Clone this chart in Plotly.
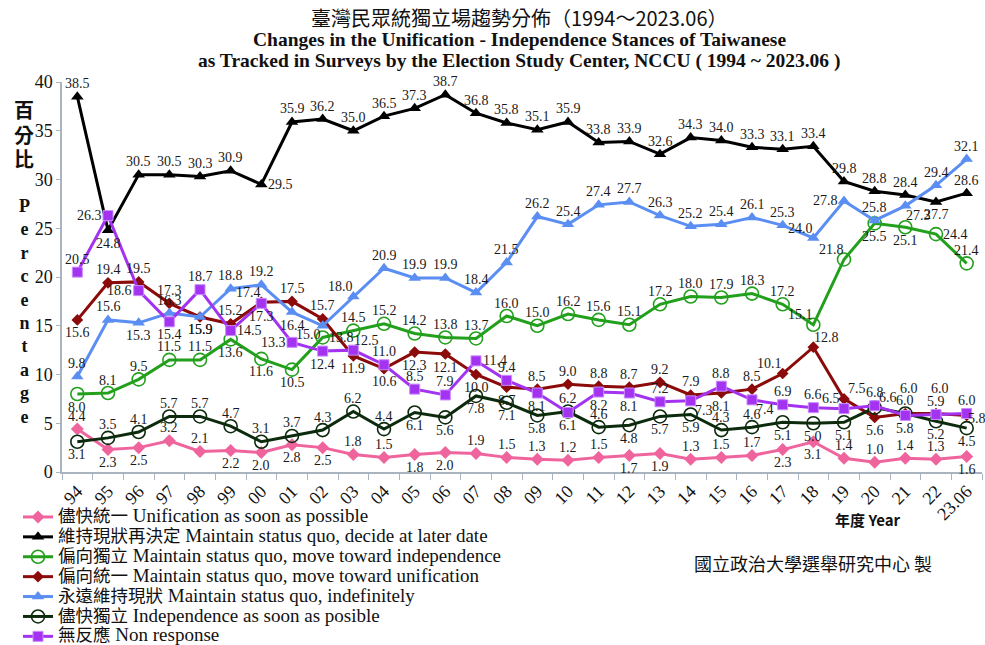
import plotly.graph_objects as go

# ---------------- data ----------------
years = ["94", "95", "96", "97", "98", "99", "00", "01", "02", "03", "04", "05", "06", "07", "08",
         "09", "10", "11", "12", "13", "14", "15", "16", "17", "18", "19", "20", "21", "22", "23.06"]

unif_asap = [4.4, 2.3, 2.5, 3.2, 2.1, 2.2, 2.0, 2.8, 2.5, 1.8, 1.5, 1.8, 2.0, 1.9, 1.5,
             1.3, 1.2, 1.5, 1.7, 1.9, 1.3, 1.5, 1.7, 2.3, 3.1, 1.4, 1.0, 1.4, 1.3, 1.6]
decide_later = [38.5, 24.8, 30.5, 30.5, 30.3, 30.9, 29.5, 35.9, 36.2, 35.0, 36.5, 37.3, 38.7, 36.8, 35.8,
                35.1, 35.9, 33.8, 33.9, 32.6, 34.3, 34.0, 33.3, 33.1, 33.4, 29.8, 28.8, 28.4, 27.7, 28.6]
toward_indep = [8.0, 8.1, 9.5, 11.5, 11.5, 13.6, 11.6, 10.5, 13.8, 14.5, 15.2, 14.2, 13.8, 13.7, 16.0,
                15.0, 16.2, 15.6, 15.1, 17.2, 18.0, 17.9, 18.3, 17.2, 15.1, 21.8, 25.5, 25.1, 24.4, 21.4]
toward_unif = [15.6, 19.4, 19.5, 17.3, 15.9, 15.2, 17.4, 17.5, 15.7, 11.9, 10.6, 12.3, 12.1, 10.0, 8.7,
               8.5, 9.0, 8.8, 8.7, 9.2, 7.9, 8.1, 8.5, 10.1, 12.8, 7.5, 5.6, 6.0, 6.0, 5.8]
indefinitely = [9.8, 15.6, 15.3, 16.3, 15.9, 18.8, 19.2, 16.4, 15.0, 18.0, 20.9, 19.9, 19.9, 18.4, 21.5,
                26.2, 25.4, 27.4, 27.7, 26.3, 25.2, 25.4, 26.1, 25.3, 24.0, 27.8, 25.8, 27.3, 29.4, 32.1]
indep_asap = [3.1, 3.5, 4.1, 5.7, 5.7, 4.7, 3.1, 3.7, 4.3, 6.2, 4.4, 6.1, 5.6, 7.8, 7.1,
              5.8, 6.2, 4.6, 4.8, 5.7, 5.9, 4.3, 4.6, 5.1, 5.0, 5.1, 6.6, 6.0, 5.2, 4.5]
non_response = [20.5, 26.3, 18.6, 15.4, 18.7, 14.5, 17.3, 13.3, 12.4, 12.5, 11.0, 8.5, 7.9, 11.4, 9.4,
                8.1, 6.1, 8.2, 8.1, 7.2, 7.3, 8.8, 7.4, 6.9, 6.6, 6.5, 6.8, 5.8, 5.9, 6.0]

y_ticks = [0, 5, 10, 15, 20, 25, 30, 35, 40]

# ---------------- label placement (style) ----------------
pink_pos = ["T", "B", "B", "T", "T", "B", "B", "B", "B", "T", "T", "B", "B", "T", "T",
            "T", "T", "T", "B", "B", "T", "T", "T", "B", "B", "T", "T", "T", "T", "B"]
black_pos = ["T", "B", "T", "T", "T", "T", "R"] + ["T"] * 21 + ["B", "T"]
green_pos = ["B", "T", "T", "T", "T", "B", "B", "B", "R", "T"] + ["T"] * 14 + ["TL", "TL", "B", "B", "R", "T"]
red_pos = ["B", "T", "T", "T", "B", "T", "TL", "T", "T", "B", "B", "B", "B", "B", "B",
           "T", "T", "T", "T", "T", "T", "B", "T", "TL", "TR", "TR", "B", "T2", "T2", "R2"]
blue_pos = ["T", "T", "B", "T", "B", "T", "T", "B", "BL", "TL"] + ["T"] * 14 + ["TL", "L", "T", "BR", "T", "T"]
dkgreen_pos = ["B", "T", "T", "T", "T", "T", "T", "T", "T", "T", "T", "B", "B", "B", "B",
               "B", "T", "T", "B", "B", "B", "T", "T", "B", "B", "B", "TR", "T", "B", "B"]
purple_pos = ["T", "L", "L", "B", "T", "R", "B", "L", "B", "TR", "T", "T", "T", "R", "T",
              "B", "B", "B", "B", "T", "BR", "T", "BR", "T", "T", "TL", "T", "B", "T", "T"]

SHIFT = {"T": (0, 13), "B": (0, -13), "L": (-19, 0), "R": (19, 0), "R2": (10, -3),
         "TL": (-13, 10), "TR": (13, 10), "BL": (-14, -9), "BR": (13, -10), "T2": (4, 25)}

series = [
    ("儘快統一 Unification as soon as possible", unif_asap, pink_pos,
     "#f0649e", dict(symbol="diamond", size=10, color="#f0649e")),
    ("維持現狀再決定 Maintain status quo, decide at later date", decide_later, black_pos,
     "#000000", dict(symbol="triangle-up", size=11, color="#000000")),
    ("偏向獨立 Maintain status quo, move toward independence", toward_indep, green_pos,
     "#22a01c", dict(symbol="circle-open", size=13, color="#22a01c", line=dict(width=1.6))),
    ("偏向統一 Maintain status quo, move toward unification", toward_unif, red_pos,
     "#8b0a0a", dict(symbol="diamond", size=9, color="#8b0a0a")),
    ("永遠維持現狀 Maintain status quo, indefinitely", indefinitely, blue_pos,
     "#5b8ef2", dict(symbol="triangle-up", size=11, color="#5b8ef2")),
    ("儘快獨立 Independence as soon as posible", indep_asap, dkgreen_pos,
     "#0c2a0c", dict(symbol="circle-open", size=13, color="#0c2a0c", line=dict(width=1.6))),
    ("無反應 Non response", non_response, purple_pos,
     "#a333f0", dict(symbol="square", size=10, color="#a333f0", line=dict(width=1, color="#c98cff"))),
]

SERIF = "Liberation Serif, Times New Roman, serif"
CJK = "Noto Sans CJK TC, Noto Sans CJK SC, sans-serif"

fig = go.Figure()
annotations = []
for name, vals, pos, col, mk in series:
    cjk_part, eng_part = name.split(" ", 1)
    legend_name = (f"<span style=\"font-size:17.5px;font-family:'Noto Sans CJK TC'\">{cjk_part}</span>"
                   f"<span style=\"font-size:19px;font-family:'Liberation Serif'\"> {eng_part}</span>")
    fig.add_trace(go.Scatter(
        x=years, y=vals, mode="lines+markers", name=legend_name,
        line=dict(color=col, width=3), marker=mk, cliponaxis=False,
    ))
    for i, (yv, p) in enumerate(zip(vals, pos)):
        dx, dy = SHIFT[p]
        annotations.append(dict(
            x=i, y=yv, xref="x", yref="y", text=f"{yv:.1f}", showarrow=False,
            xshift=dx, yshift=dy, xanchor="center", yanchor="middle",
            font=dict(family=SERIF, size=14, color="#1a1a1a"),
        ))

# plot area in pixels: x 62..982, y 82..472
L, R, T, B = 62, 982, 82, 472
def px(xp):
    return (xp - L) / (R - L)
def py(yp):
    return (B - yp) / (B - T)

# titles
annotations += [
    dict(x=px(519), y=py(18), xref="paper", yref="paper", showarrow=False,
         text="臺灣民眾統獨立場趨勢分佈（1994～2023.06）", xanchor="center", yanchor="middle",
         font=dict(family="Noto Sans CJK TC, " + SERIF, size=20, color="#111")),
    dict(x=px(519), y=py(40), xref="paper", yref="paper", showarrow=False,
         text="<b>Changes in the Unification - Independence Stances of Taiwanese</b>",
         xanchor="center", yanchor="middle", font=dict(family=SERIF, size=19.5, color="#111")),
    dict(x=px(519), y=py(61), xref="paper", yref="paper", showarrow=False,
         text="<b>as Tracked in Surveys by the Election Study Center, NCCU ( 1994 ~ 2023.06 )</b>",
         xanchor="center", yanchor="middle", font=dict(family=SERIF, size=19.5, color="#111")),
]
# y-axis title (vertical stacked)
for ch, yy in zip("百分比", [110, 134, 158]):
    annotations.append(dict(x=px(24), y=py(yy), xref="paper", yref="paper", showarrow=False,
                            text=f"<b>{ch}</b>", xanchor="center", yanchor="middle",
                            font=dict(family=CJK, size=20, color="#111")))
annotations.append(dict(x=px(24), y=py(311), xref="paper", yref="paper", showarrow=False,
                        text="<br>".join(f"<b>{c}</b>" for c in "Percentage"),
                        xanchor="center", yanchor="middle",
                        font=dict(family=SERIF, size=18, color="#111")))
annotations += [
    dict(x=px(868), y=py(519), xref="paper", yref="paper", showarrow=False,
         text="<b>年度 Year</b>", xanchor="center", yanchor="middle",
         font=dict(family="Noto Sans CJK TC, " + SERIF, size=15, color="#111")),
    dict(x=px(813), y=py(563), xref="paper", yref="paper", showarrow=False,
         text="國立政治大學選舉研究中心 製", xanchor="center", yanchor="middle",
         font=dict(family=CJK, size=18, color="#111")),
]

fig.update_layout(
    width=985, height=645,
    margin=dict(l=L, r=985 - R, t=T, b=645 - B, autoexpand=False),
    paper_bgcolor="white", plot_bgcolor="white",
    showlegend=True,
    legend=dict(xref="container", yref="container", x=18 / 985, y=1 - 502 / 645,
                xanchor="left", yanchor="top", bgcolor="rgba(0,0,0,0)",
                font=dict(family="Liberation Serif, Noto Sans CJK TC", size=13, color="#111"),
                itemwidth=30, tracegroupgap=0),
    annotations=annotations,
    xaxis=dict(type="category", range=[-0.5, 29.5], showline=True, linecolor="#aab4c0", linewidth=1.5,
               ticks="outside", tickson="boundaries", ticklen=6, tickcolor="#aab4c0",
               tickangle=-45, tickfont=dict(family=SERIF, size=18, color="#111"),
               showgrid=False, zeroline=False, automargin=False),
    yaxis=dict(range=[0, 40], tickvals=y_ticks, showline=True, linecolor="#aab4c0", linewidth=1.5,
               ticks="outside", ticklen=4, tickcolor="#aab4c0",
               tickfont=dict(family=SERIF, size=18, color="#111"),
               showgrid=False, zeroline=False, automargin=False),
)

fig.write_html("out.html", config={"displayModeBar": False},
               post_script="document.body.style.margin='0px';")
